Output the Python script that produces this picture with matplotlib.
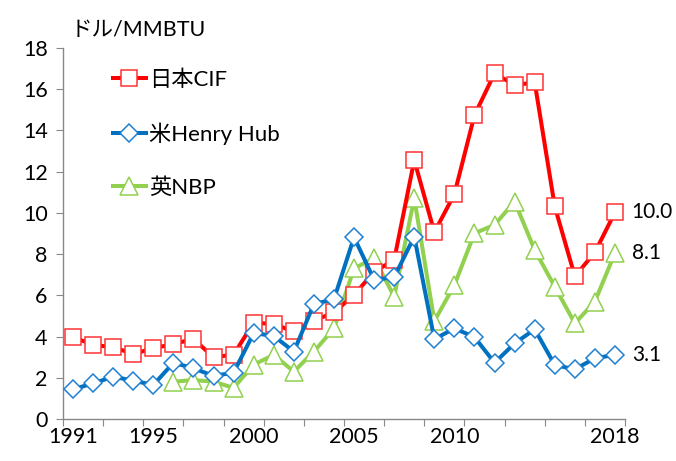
import numpy as np
import matplotlib
matplotlib.use("Agg")
import matplotlib.pyplot as plt

plt.rcParams['font.family'] = ['Lato', 'Noto Sans CJK JP', 'DejaVu Sans']

years = list(range(1991, 2019))
japan_cif = [3.97, 3.6, 3.48, 3.16, 3.43, 3.64, 3.88, 3.0, 3.12, 4.68, 4.6, 4.25, 4.77, 5.17, 6.02,
             7.14, 7.72, 12.56, 9.06, 10.91, 14.74, 16.77, 16.2, 16.33, 10.31, 6.92, 8.09, 10.03]
henry_hub = [1.44, 1.73, 2.05, 1.86, 1.65, 2.73, 2.46, 2.09, 2.25, 4.17, 4.03, 3.27, 5.58, 5.81, 8.82,
             6.75, 6.88, 8.85, 3.87, 4.4, 3.97, 2.73, 3.67, 4.35, 2.62, 2.41, 2.95, 3.11]
nbp_years = list(range(1996, 2019))
nbp = [1.81, 1.89, 1.81, 1.51, 2.64, 3.11, 2.3, 3.27, 4.4, 7.31, 7.8, 5.94, 10.71, 4.75,
       6.5, 9.01, 9.42, 10.55, 8.2, 6.42, 4.64, 5.7, 8.06]
tick_years = [1991, 1995, 2000, 2005, 2010, 2018]
labels = ['日本CIF', '米Henry Hub', '英NBP']

fig = plt.figure(figsize=(6.76, 4.61), dpi=100)
ax = fig.add_axes([0.0932, 0.0911, 0.8314, 0.8048])

ax.plot(years, japan_cif, color='#FF0000', lw=2.9, marker='s', ms=12,
        mfc='white', mec='#FF3333', mew=1.1, label=labels[0], zorder=3)
ax.plot(years, henry_hub, color='#0070C0', lw=2.9, marker='D', ms=9,
        mfc='white', mec='#1F7FD0', mew=1.1, label=labels[1], zorder=4)
ax.plot(nbp_years, nbp, color='#92D050', lw=2.9, marker='^', ms=12.5,
        mfc='white', mec='#92D050', mew=1.1, label=labels[2], zorder=2)

for series in (japan_cif, nbp, henry_hub):
    ax.annotate(f'{series[-1]:.1f}', xy=(years[-1], series[-1]), xytext=(12, 0),
                textcoords='offset points', va='center', ha='left',
                fontsize=15, annotation_clip=False)

ax.set_xlim(1990.5, 2018.5)
ax.set_ylim(0, 18)
ax.set_yticks(np.arange(0, 19, 2))
ax.set_xticks(np.arange(1990.5, 2019, 2))
ax.set_xticklabels([])
ax.set_xticks(tick_years, minor=True)
ax.set_xticklabels([str(y) for y in tick_years], minor=True)
ax.tick_params(axis='x', which='major', direction='out', length=5, color='#888888')
ax.tick_params(axis='x', which='minor', length=0, pad=6, labelsize=15.5)
ax.tick_params(axis='y', direction='out', length=5, color='#888888', labelsize=15.5, pad=6)

for side in ('top', 'right'):
    ax.spines[side].set_visible(False)
for side in ('left', 'bottom'):
    ax.spines[side].set_color('#888888')
    ax.spines[side].set_linewidth(1.0)

leg = ax.legend(loc='upper left', bbox_to_anchor=(0.053, 0.995), frameon=False,
                fontsize=16, labelspacing=1.45, handlelength=1.5, handletextpad=0.15)

fig.text(0.104, 0.935, 'ドル/MMBTU', fontsize=15.5, ha='left', va='center')

fig.savefig('out.png', dpi=100)
